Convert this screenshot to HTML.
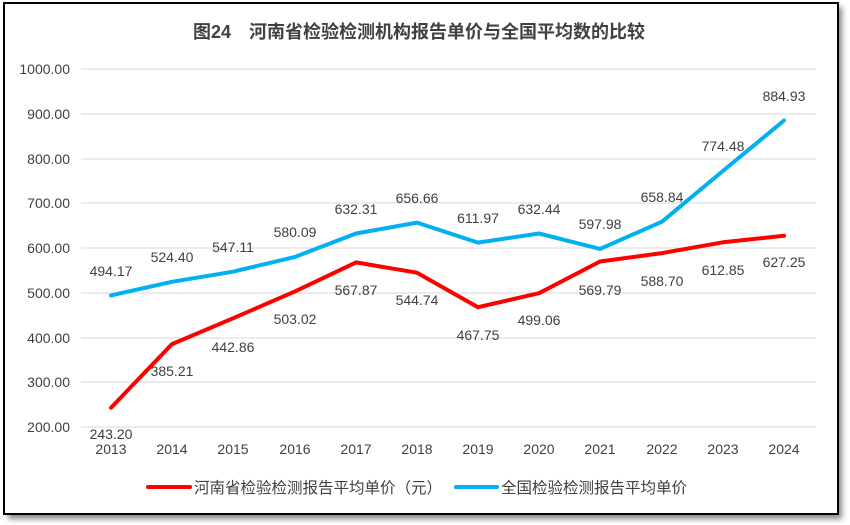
<!DOCTYPE html>
<html><head><meta charset="utf-8"><style>
body{margin:0;background:#fff;}
svg{display:block;font-family:"Liberation Sans","Noto Sans CJK SC",sans-serif;}
</style></head><body>
<svg width="850" height="525" xmlns="http://www.w3.org/2000/svg">
<defs><filter id="sh" x="-5%" y="-5%" width="110%" height="110%"><feGaussianBlur stdDeviation="3"/></filter></defs>
<rect x="8" y="7" width="834" height="512" fill="#888" filter="url(#sh)"/>
<rect x="4" y="3" width="834" height="511" fill="#fff" stroke="#000" stroke-width="2"/>
<text x="419" y="38" text-anchor="middle" font-size="18" font-weight="bold" fill="#404040">图24　河南省检验检测机构报告单价与全国平均数的比较</text>
<g stroke="#d9d9d9" stroke-width="1">
<line x1="81" x2="816" y1="69" y2="69"/><line x1="81" x2="816" y1="114" y2="114"/><line x1="81" x2="816" y1="159" y2="159"/><line x1="81" x2="816" y1="203" y2="203"/><line x1="81" x2="816" y1="248" y2="248"/><line x1="81" x2="816" y1="293" y2="293"/><line x1="81" x2="816" y1="338" y2="338"/><line x1="81" x2="816" y1="382" y2="382"/><line x1="81" x2="816" y1="427" y2="427"/>
</g>
<g font-size="14" fill="#404040" text-anchor="end">
<text x="70" y="74">1000.00</text><text x="70" y="119">900.00</text><text x="70" y="164">800.00</text><text x="70" y="208">700.00</text><text x="70" y="253">600.00</text><text x="70" y="298">500.00</text><text x="70" y="343">400.00</text><text x="70" y="387">300.00</text><text x="70" y="432">200.00</text>
</g>
<g font-size="14" fill="#404040" text-anchor="middle">
<text x="111" y="454">2013</text><text x="172" y="454">2014</text><text x="233" y="454">2015</text><text x="295" y="454">2016</text><text x="356" y="454">2017</text><text x="417" y="454">2018</text><text x="478" y="454">2019</text><text x="539" y="454">2020</text><text x="600" y="454">2021</text><text x="662" y="454">2022</text><text x="723" y="454">2023</text><text x="784" y="454">2024</text>
</g>
<polyline fill="none" stroke="#00b0f0" stroke-width="4" stroke-linejoin="round" stroke-linecap="round" points="111,295.4 172,281.8 233,271.7 295,256.9 356,233.5 417,222.6 478,242.6 539,233.5 600,248.9 662,221.7 723,170.9 784,120.5"/>
<polyline fill="none" stroke="#ff0000" stroke-width="4" stroke-linejoin="round" stroke-linecap="round" points="111,407.7 172,344.1 233,318.3 295,291.4 356,262.4 417,272.7 478,307.2 539,293.2 600,261.5 662,253.1 723,242.3 784,235.8"/>
<g font-size="14" fill="#404040" text-anchor="middle">
<text x="111" y="276">494.17</text><text x="172" y="262">524.40</text><text x="233" y="252">547.11</text><text x="295" y="237">580.09</text><text x="356" y="214">632.31</text><text x="417" y="203">656.66</text><text x="478" y="223">611.97</text><text x="539" y="214">632.44</text><text x="600" y="229">597.98</text><text x="662" y="202">658.84</text><text x="723" y="151">774.48</text><text x="784" y="101">884.93</text>
<text x="111" y="439">243.20</text><text x="172" y="376">385.21</text><text x="233" y="352">442.86</text><text x="295" y="324">503.02</text><text x="356" y="295">567.87</text><text x="417" y="305">544.74</text><text x="478" y="340">467.75</text><text x="539" y="325">499.06</text><text x="600" y="295">569.79</text><text x="662" y="286">588.70</text><text x="723" y="275">612.85</text><text x="784" y="267">627.25</text>
</g>
<line x1="148" x2="190" y1="487" y2="487" stroke="#ff0000" stroke-width="4" stroke-linecap="round"/>
<text x="194" y="493" font-size="15.5" fill="#404040">河南省检验检测报告平均单价（元）</text>
<line x1="456" x2="497" y1="487" y2="487" stroke="#00b0f0" stroke-width="4" stroke-linecap="round"/>
<text x="501" y="493" font-size="15.5" fill="#404040">全国检验检测报告平均单价</text>
</svg>
</body></html>
